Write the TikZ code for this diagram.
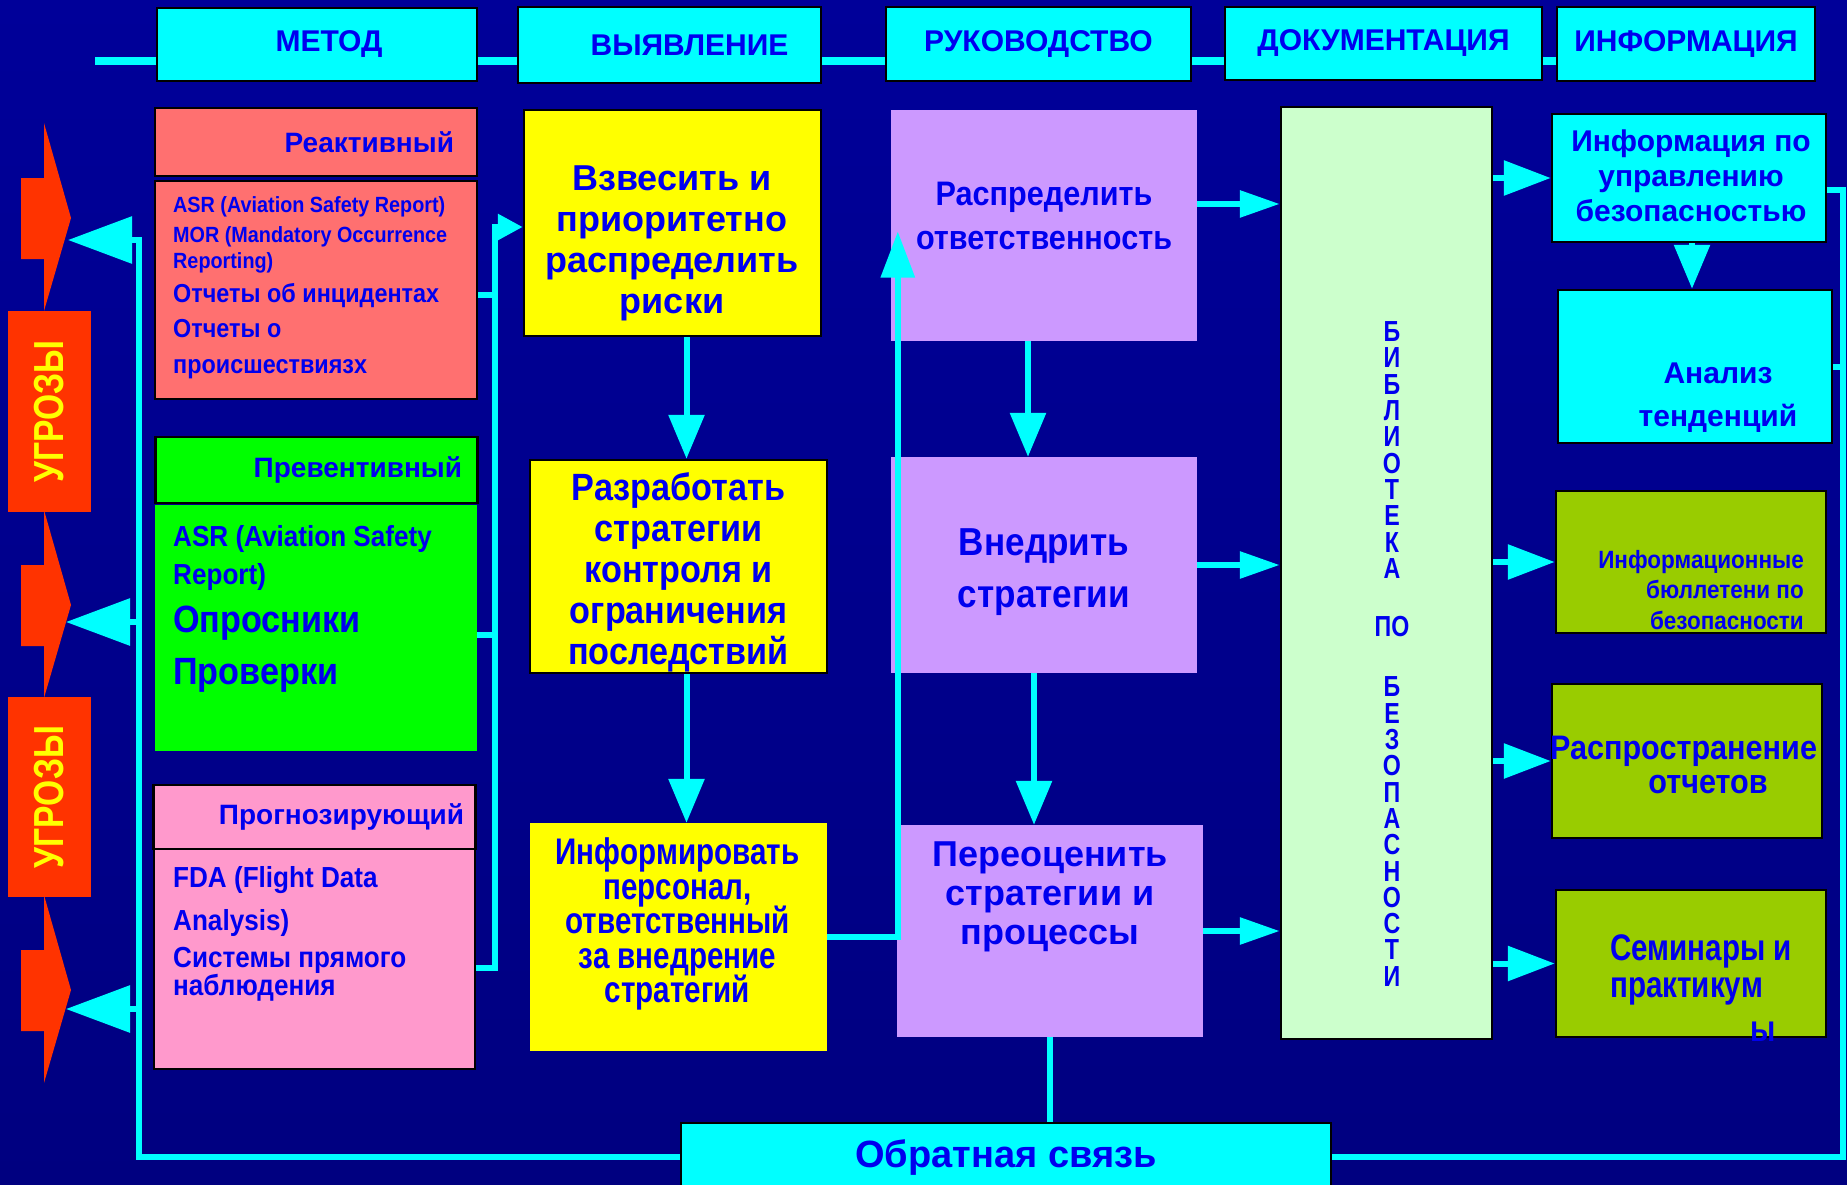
\documentclass[tikz,border=0pt]{standalone}
\usepackage{fontspec}
\setmainfont{Liberation Sans}
\newfontfamily\wfont{Liberation Sans}
\newfontfamily\cfont[FakeStretch=0.9]{Liberation Sans}
\newfontfamily\nfont[FakeStretch=0.8]{Liberation Sans}
\usetikzlibrary{positioning, arrows.meta}

\definecolor{bgtop}{HTML}{000099}
\definecolor{bgmid}{HTML}{0000F5}
\definecolor{bgbot}{HTML}{000080}
\definecolor{aqua}{HTML}{00FFFF}
\definecolor{ink}{HTML}{0000EE}
\definecolor{fire}{HTML}{FF3300}
\definecolor{salmon}{HTML}{FF7070}
\definecolor{limebox}{HTML}{00FF00}
\definecolor{rose}{HTML}{FF99CC}
\definecolor{lemon}{HTML}{FFFF00}
\definecolor{lilac}{HTML}{CC99FF}
\definecolor{mint}{HTML}{CCFFCC}
\definecolor{olivebox}{HTML}{99CC00}

\newcommand{\fsz}[2]{\fontsize{#1}{#2}\selectfont\lineskiplimit=-40pt\relax}

\tikzset{
	cell/.style={inner sep=0pt},
	rim/.style={draw=black, line width=2.5pt},
	hbox/.style={cell, rim, fill=aqua, text=ink, font=\wfont\bfseries\fsz{30}{36}},
	tag/.style={cell, rim, text=ink, align=right, minimum width=322pt, font=\wfont\bfseries\fsz{28}{30}},
	lbl/.style={inner sep=0pt, text=ink, align=center},
	wire/.style={draw=aqua, line width=6pt},
	fall/.style={wire, -{Triangle[length=44pt,width=35pt]}},
	tolib/.style={wire, -{Triangle[length=40pt,width=26pt]}},
	fromlib/.style={wire, -{Triangle[length=47pt,width=34pt]}},
	tothreat/.style={wire, -{Triangle[length=64pt,width=46pt]}},
	intake/.style={wire, -{Triangle[length=25pt,width=25pt]}}
}

\begin{document}
\begin{tikzpicture}[x=1pt, y=-1pt]
	\useasboundingbox (0,0) rectangle (1847,1184);
	\clip (0,0) rectangle (1847,1184);
	\shade[top color=bgtop, middle color=bgmid, bottom color=bgbot] (0,0) rectangle (1847,1184);

	% header row
	\coordinate (hb) at (95,60.5);
	\node[hbox, minimum width=320pt, minimum height=73pt] (hmet) at (317,44.5) {\hspace*{24pt}МЕТОД};
	\node[hbox, minimum width=303pt, minimum height=76pt] (hvyy) at (669.5,45) {\hspace*{40pt}ВЫЯВЛЕНИЕ};
	\node[hbox, minimum width=305pt, minimum height=74pt] (hruk) at (1038.5,44) {РУКОВОДСТВО};
	\node[hbox, minimum width=317pt, minimum height=73pt] (hdoc) at (1383.5,43.5) {ДОКУМЕНТАЦИЯ};
	\node[hbox, minimum width=258pt, minimum height=74pt] (hinf) at (1686,44) {ИНФОРМАЦИЯ};
	\draw[wire, line width=8pt] (hb) -- (hmet.west |- hb);
	\foreach \a/\b in {hmet/hvyy, hvyy/hruk, hruk/hdoc, hdoc/hinf}
		\draw[wire, line width=8pt] (\a.east |- hb) -- (\b.west |- hb);

	% threats
	\foreach \ty in {218,605,990}
		\fill[fire] (21,\ty-40) -- (44,\ty-40) -- (44,\ty-95) -- (71,\ty) -- (44,\ty+93) -- (44,\ty+41) -- (21,\ty+41) -- cycle;
	\node[cell, fill=fire, rotate=90, minimum width=201pt, minimum height=83pt, text=lemon, font=\nfont\bfseries\fsz{42}{42}] (ugr1) at (49.5,411.5) {УГРОЗЫ};
	\node[cell, fill=fire, rotate=90, minimum width=200pt, minimum height=83pt, text=lemon, font=\nfont\bfseries\fsz{42}{42}] (ugr2) at (49.5,797) {УГРОЗЫ};
	\coordinate (th1) at (68,240);
	\coordinate (th2) at (66,622);
	\coordinate (th3) at (66,1009);

	% methods
	\node[tag, fill=salmon, minimum height=68pt, text width=276pt] (reakh) at (316,142) {Реактивный};
	\node[cell, rim, fill=salmon, minimum width=322pt, minimum height=218pt] (reakb) at (316,290) {};
	\node[lbl, align=left, anchor=west, font=\cfont\bfseries\fsz{22}{26.5}] (reakt) at (173,287.6)
		{ASR (Aviation Safety Report)\\[3pt]MOR (Mandatory Occurrence\\Reporting)\\[7pt]\fsz{26}{26.5}Отчеты об инцидентах\\[8.5pt]\fsz{26}{26.5}Отчеты о\\[9.5pt]\fsz{26}{26.5}происшествиязх};
	\node[tag, fill=limebox, minimum height=66pt, text width=291pt] (prevh) at (316.5,470) {Превентивный};
	\node[cell, fill=limebox, minimum width=322pt, minimum height=246pt] (prevb) at (316,628) {};
	\node[lbl, align=left, anchor=west, font=\cfont\bfseries\fsz{29}{38}] (prevt) at (173,608.5)
		{ASR (Aviation Safety\\Report)\\[10.7pt]\fsz{38}{38}Опросники\\[13.3pt]\fsz{38}{38}Проверки};
	\node[tag, fill=rose, minimum height=64pt, text width=299pt] (progh) at (314.5,817) {Прогнозирующий};
	\node[cell, rim, fill=rose, minimum width=321pt, minimum height=220pt] (progb) at (314.5,959) {};
	\node[lbl, align=left, anchor=west, font=\cfont\bfseries\fsz{29}{28.4}] (progt) at (173,934)
		{FDA (Flight Data\\[15pt]Analysis)\\[8.2pt]Системы прямого\\наблюдения};

	% identification
	\node[cell, rim, fill=lemon, minimum width=297pt, minimum height=226pt] (vzv) at (672.5,223) {};
	\node[lbl, font=\wfont\bfseries\fsz{36}{41}] (vzvt) at (672,243) {Взвесить и\\приоритетно\\распределить\\риски};
	\node[cell, rim, fill=lemon, minimum width=297pt, minimum height=213pt] (razr) at (678.5,566.5) {};
	\node[lbl, font=\cfont\bfseries\fsz{38}{41}] (razrt) at (678.5,572) {Разработать\\стратегии\\контроля и\\ограничения\\последствий};
	\node[cell, fill=lemon, minimum width=297pt, minimum height=228pt] (infm) at (678.5,937) {};
	\node[lbl, font=\nfont\bfseries\fsz{37}{34.5}] (infmt) at (677.5,924) {Информировать\\персонал,\\ответственный\\за внедрение\\стратегий};

	% management
	\node[cell, fill=lilac, minimum width=306pt, minimum height=231pt] (raspr) at (1044,225.5) {};
	\node[lbl, font=\cfont\bfseries\fsz{34}{44.3}] (resprt) at (1044,216) {Распределить\\ответственность};
	\node[cell, fill=lilac, minimum width=306pt, minimum height=216pt] (vnedr) at (1044,565) {};
	\node[lbl, font=\cfont\bfseries\fsz{39}{52}] (vnedrt) at (1044,572) {Внедрить\\стратегии};
	\node[cell, fill=lilac, minimum width=306pt, minimum height=212pt] (pere) at (1050,931) {};
	\node[lbl, font=\wfont\bfseries\fsz{36}{39}] (peret) at (1050,896.5) {Переоценить\\стратегии и\\процессы};

	% documentation
	\node[cell, rim, fill=mint, minimum width=211pt, minimum height=932pt] (bib) at (1386.5,573) {};
	\node[lbl, font=\nfont\bfseries\fsz{29}{26.3}] (bibt) at (1392,654)
		{Б\\И\\Б\\Л\\И\\О\\Т\\Е\\К\\А\\[32pt]ПО\\[34pt]Б\\Е\\З\\О\\П\\А\\С\\Н\\О\\С\\Т\\И};

	% information
	\node[cell, rim, fill=aqua, minimum width=274pt, minimum height=128pt] (inf) at (1689,178) {};
	\node[lbl, font=\wfont\bfseries\fsz{30}{35}] (inft) at (1691,176) {Информация по\\управлению\\безопасностью};
	\node[cell, rim, fill=aqua, minimum width=274pt, minimum height=153pt] (ana) at (1695,366.5) {};
	\node[lbl, font=\wfont\bfseries\fsz{30}{43.3}] (anat) at (1718,398) {Анализ\\тенденций};
	\node[cell, rim, fill=olivebox, minimum width=270pt, minimum height=142pt] (bull) at (1691,562) {};
	\node[lbl, align=right, anchor=east, font=\cfont\bfseries\fsz{25}{30.5}] (bullt) at (1804,590) {Информационные\\бюллетени по\\безопасности};
	\node[cell, rim, fill=olivebox, minimum width=270pt, minimum height=154pt] (rasp) at (1687,761) {};
	\node[lbl, font=\cfont\bfseries\fsz{34}{34}] (raspt) at (1683.5,764.5) {Распространение\\\hspace*{49pt}отчетов};
	\node[cell, rim, fill=olivebox, minimum width=270pt, minimum height=147pt] (sem) at (1691,963.5) {};
	\node[lbl, align=left, anchor=west, font=\nfont\bfseries\fsz{37}{37}] (semt) at (1610,988) {Семинары и\\практикум\\[7pt]\hspace*{140pt}ы};

	% feedback
	\node[cell, rim, fill=aqua, minimum width=650pt, minimum height=68pt, text=ink, font=\wfont\bfseries\fsz{38}{40}] (obr) at (1006,1157) {Обратная связь};

	% connectors
	\draw[tothreat] (obr.west) -| ([xshift=71pt]th1) -- (th1);
	\draw[tothreat] ([xshift=73pt]th2) -- (th2);
	\draw[tothreat] ([xshift=73pt]th3) -- (th3);
	\coordinate (rb) at (1843,190);
	\draw[wire] (obr.east) -| (rb) -- ([yshift=-12pt]inf.east);
	\draw[wire] (rb |- ana.east) -- (ana.east);
	\draw[wire] (pere.south) -- (pere.south |- obr.north);

	\draw[intake] ([yshift=-9pt]progb.east) -- ++(19,0) |- ([yshift=-4pt]vzv.west);
	\draw[wire] ([yshift=-5pt]reakb.east) -- ++(19,0);
	\draw[wire] ([yshift=-7pt]prevb.east) -- ++(19,0);

	\draw[fall] ([xshift=14pt]vzv.south) -- ([xshift=8pt]razr.north);
	\draw[fall] ([xshift=8pt]razr.south) -- ([xshift=8pt]infm.north);
	\draw[fall] ([xshift=-16pt]raspr.south) -- ([xshift=-16pt]vnedr.north);
	\draw[fall] ([xshift=-10pt]vnedr.south) -- ([xshift=-16pt]pere.north);
	\draw[fall] ([xshift=3pt]inf.south) -- ([xshift=-3pt]ana.north);
	\draw[wire, -{Triangle[length=46pt,width=33pt]}] (infm.east) -| ([xshift=7pt,yshift=-6pt]raspr.west);

	\draw[tolib] (raspr.8) -- (raspr.8 -| bib.west);
	\draw[tolib] (vnedr.east) -- (vnedr.east -| bib.west);
	\draw[tolib] (pere.east) -- (pere.east -| bib.west);

	\draw[fromlib] (inf.west -| bib.east) -- (inf.west);
	\draw[fromlib] (bull.west -| bib.east) -- (bull.west);
	\draw[fromlib] (rasp.west -| bib.east) -- (rasp.west);
	\draw[fromlib] (sem.west -| bib.east) -- (sem.west);
\end{tikzpicture}
\end{document}
